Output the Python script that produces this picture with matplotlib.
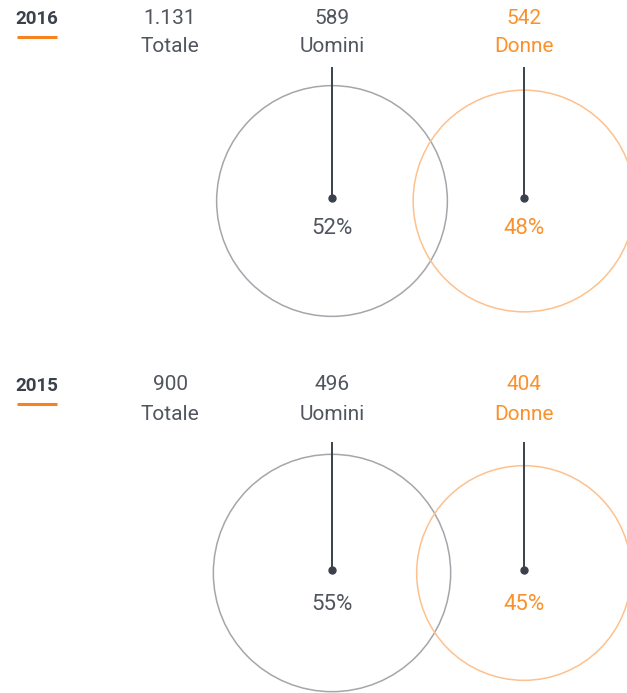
import numpy as np
import matplotlib
matplotlib.use('Agg')
import matplotlib.pyplot as plt
from matplotlib.patches import Circle

# ── Data ───────────────────────────────────────────────────────────────────────
years = ['2016', '2015']
totale = ['1.131', '900']
uomini = ['589', '496']
donne = ['542', '404']
pct_uomini = [52, 55]
pct_donne = [48, 45]

# ── Style ──────────────────────────────────────────────────────────────────────
GRAY_TXT = '#50555e'
DARK = '#3a414c'
ORANGE_TXT = '#f9922e'
ORANGE = '#f5841f'
GRAY_CIRC = '#a3a6ab'
ORANGE_CIRC = '#fdc18e'
FONT = ['Roboto', 'DejaVu Sans']

# per-panel vertical positions (pixels from top)
text_y = [18, 385]
label_y = [47, 415]
line_top = [68, 443]
circle_y = [201, 573]
pct_y = [228, 605]
X_YEAR, X_TOT, X_U, X_D = 37, 170, 332, 524
R_SCALE = 16  # circle radius = R_SCALE * sqrt(pct)

fig = plt.figure(figsize=(6.27, 6.93), dpi=100)
ax = fig.add_axes([0, 0, 1, 1])
ax.set_xlim(0, 627)
ax.set_ylim(693, 0)
ax.axis('off')


def label(x, y, s, color, size=15):
    ax.text(x, y, s, ha='center', va='center', fontsize=size,
            color=color, family=FONT)


for i, yr in enumerate(years):
    ty, ly, cy = text_y[i], label_y[i], circle_y[i]
    ax.text(X_YEAR, ty + 1, yr, ha='center', va='center', fontsize=13.5,
            fontweight='bold', color=DARK, family=FONT)
    ax.plot([17, 57], [ty + 19, ty + 19], color=ORANGE, lw=2.2,
            solid_capstyle='butt')

    label(X_TOT, ty, totale[i], GRAY_TXT)
    label(X_TOT, ly, 'Totale', GRAY_TXT)
    label(X_U, ty, uomini[i], GRAY_TXT)
    label(X_U, ly, 'Uomini', GRAY_TXT)
    label(X_D, ty, donne[i], ORANGE_TXT)
    label(X_D, ly, 'Donne', ORANGE_TXT)

    # proportional circles
    ax.add_patch(Circle((X_U, cy), R_SCALE * np.sqrt(pct_uomini[i]),
                        fill=False, ec=GRAY_CIRC, lw=1.1))
    ax.add_patch(Circle((X_D, cy), R_SCALE * np.sqrt(pct_donne[i]),
                        fill=False, ec=ORANGE_CIRC, lw=1.1))

    for x in (X_U, X_D):
        ax.plot([x, x], [line_top[i], cy - 3], color=DARK, lw=1.4)
        ax.plot(x, cy - 3, 'o', color=DARK, ms=5)

    label(X_U, pct_y[i], f'{pct_uomini[i]}%', GRAY_TXT, 16)
    label(X_D, pct_y[i], f'{pct_donne[i]}%', ORANGE_TXT, 16)

fig.savefig('out.png', dpi=100)
